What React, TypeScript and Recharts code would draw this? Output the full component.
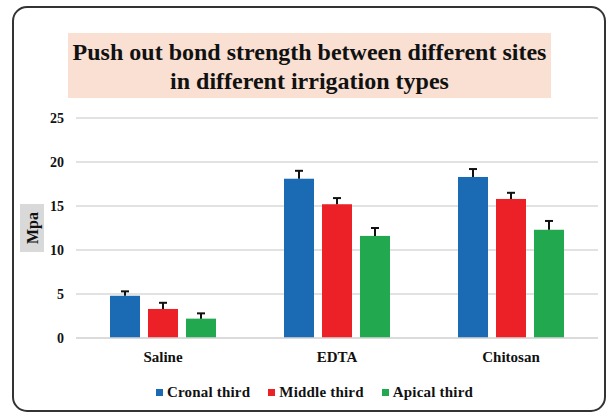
import React from 'react';
import { BarChart, Bar, XAxis, YAxis, CartesianGrid, Legend } from 'recharts';

const categories = ['Saline', 'EDTA', 'Chitosan'];
const cronal = [4.8, 18.1, 18.3];
const middle = [3.3, 15.2, 15.8];
const apical = [2.2, 11.6, 12.3];
const cronalErr = [0.5, 0.9, 0.9];
const middleErr = [0.7, 0.7, 0.7];
const apicalErr = [0.6, 0.9, 1.0];
const yTicks = [0, 5, 10, 15, 20, 25];

const series = [
  { key: 'cronal', name: 'Cronal third', color: '#1A6AB4' },
  { key: 'middle', name: 'Middle third', color: '#EC2127' },
  { key: 'apical', name: 'Apical third', color: '#22A94F' },
];

const data = categories.map((name, i) => ({
  name,
  cronal: cronal[i],
  middle: middle[i],
  apical: apical[i],
  cronalErr: cronalErr[i],
  middleErr: middleErr[i],
  apicalErr: apicalErr[i],
}));

const font = '"Liberation Serif", "DejaVu Serif", "Times New Roman", serif';

// bar + upward-only error bar (T cap), error height scaled from the bar's own px/unit
const BarWithErr = (props: any) => {
  const { x, y, width, height, fill, value, payload, errKey } = props;
  const perUnit = value ? height / value : 0;
  const top = y - payload[errKey] * perUnit;
  const cx = x + width / 2;
  return (
    <g>
      <rect x={x} y={y} width={width} height={height} fill={fill} />
      <line x1={cx} y1={y} x2={cx} y2={top} stroke="#111" strokeWidth={2} />
      <line x1={cx - 4} y1={top} x2={cx + 4} y2={top} stroke="#111" strokeWidth={2} />
    </g>
  );
};

const MpaLabel = (props: any) => {
  const { viewBox } = props;
  const cy = viewBox.y + viewBox.height / 2;
  const cx = 32;
  return (
    <g>
      <rect x={cx - 12} y={cy - 24} width={24} height={48} fill="#D9D9D9" />
      <text
        x={cx}
        y={cy}
        transform={`rotate(-90, ${cx}, ${cy})`}
        textAnchor="middle"
        dominantBaseline="central"
        fontFamily={font}
        fontWeight="bold"
        fontSize={16}
        fill="#111"
      >
        Mpa
      </text>
    </g>
  );
};

const LegendContent = () => (
  <div style={{ display: 'flex', justifyContent: 'center', gap: 18, fontFamily: font, fontWeight: 'bold', fontSize: 15, color: '#111' }}>
    {series.map((s) => (
      <div key={s.key} style={{ display: 'flex', alignItems: 'center' }}>
        <span style={{ display: 'inline-block', width: 7, height: 7, background: s.color, marginRight: 4 }} />
        <span style={{ letterSpacing: 0.2 }}>{s.name}</span>
      </div>
    ))}
  </div>
);

export default function App() {
  return (
    <div style={{ position: 'absolute', left: 0, top: 0, width: 611, height: 417, background: '#fff' }}>
      <div
        style={{
          position: 'absolute',
          left: 12,
          top: 6,
          width: 594,
          height: 406,
          border: '2px solid #333',
          borderRadius: 15,
          boxSizing: 'border-box',
        }}
      />
      <div
        style={{
          position: 'absolute',
          left: 68,
          top: 33,
          width: 483,
          height: 65,
          background: '#F9E0D3',
          fontFamily: font,
          fontWeight: 'bold',
          fontSize: 24,
          lineHeight: '29px',
          textAlign: 'center',
          color: '#111',
          paddingTop: 5,
          boxSizing: 'border-box',
        }}
      >
        Push out bond strength between different sites
        <br />
        in different irrigation types
      </div>
      <div style={{ position: 'absolute', left: 0, top: 0 }}>
        <BarChart
          width={611}
          height={417}
          data={data}
          margin={{ top: 118, right: 13, bottom: 49, left: 16 }}
          barSize={30}
          barGap={8}
        >
          <CartesianGrid vertical={false} stroke="#D9D9D9" strokeWidth={1.5} />
          <XAxis
            dataKey="name"
            axisLine={{ stroke: '#D9D9D9', strokeWidth: 1.5 }}
            tickLine={false}
            tickSize={0}
            tickMargin={13}
            height={30}
            tick={{ fontFamily: font, fontWeight: 'bold', fontSize: 15, fill: '#111' }}
          />
          <YAxis
            domain={[0, 25]}
            ticks={yTicks}
            width={60}
            axisLine={false}
            tickLine={false}
            tickSize={0}
            tickMargin={12}
            tick={{ fontFamily: font, fontWeight: 'bold', fontSize: 14, fill: '#111' }}
            label={<MpaLabel />}
          />
          <Legend
            layout="horizontal"
            verticalAlign="middle"
            align="center"
            content={<LegendContent />}
            wrapperStyle={{ top: 384, left: 9, width: 611 }}
          />
          {series.map((s) => (
            <Bar
              key={s.key}
              dataKey={s.key}
              name={s.name}
              fill={s.color}
              isAnimationActive={false}
              shape={(p: any) => <BarWithErr {...p} errKey={`${s.key}Err`} />}
            />
          ))}
        </BarChart>
      </div>
    </div>
  );
}
